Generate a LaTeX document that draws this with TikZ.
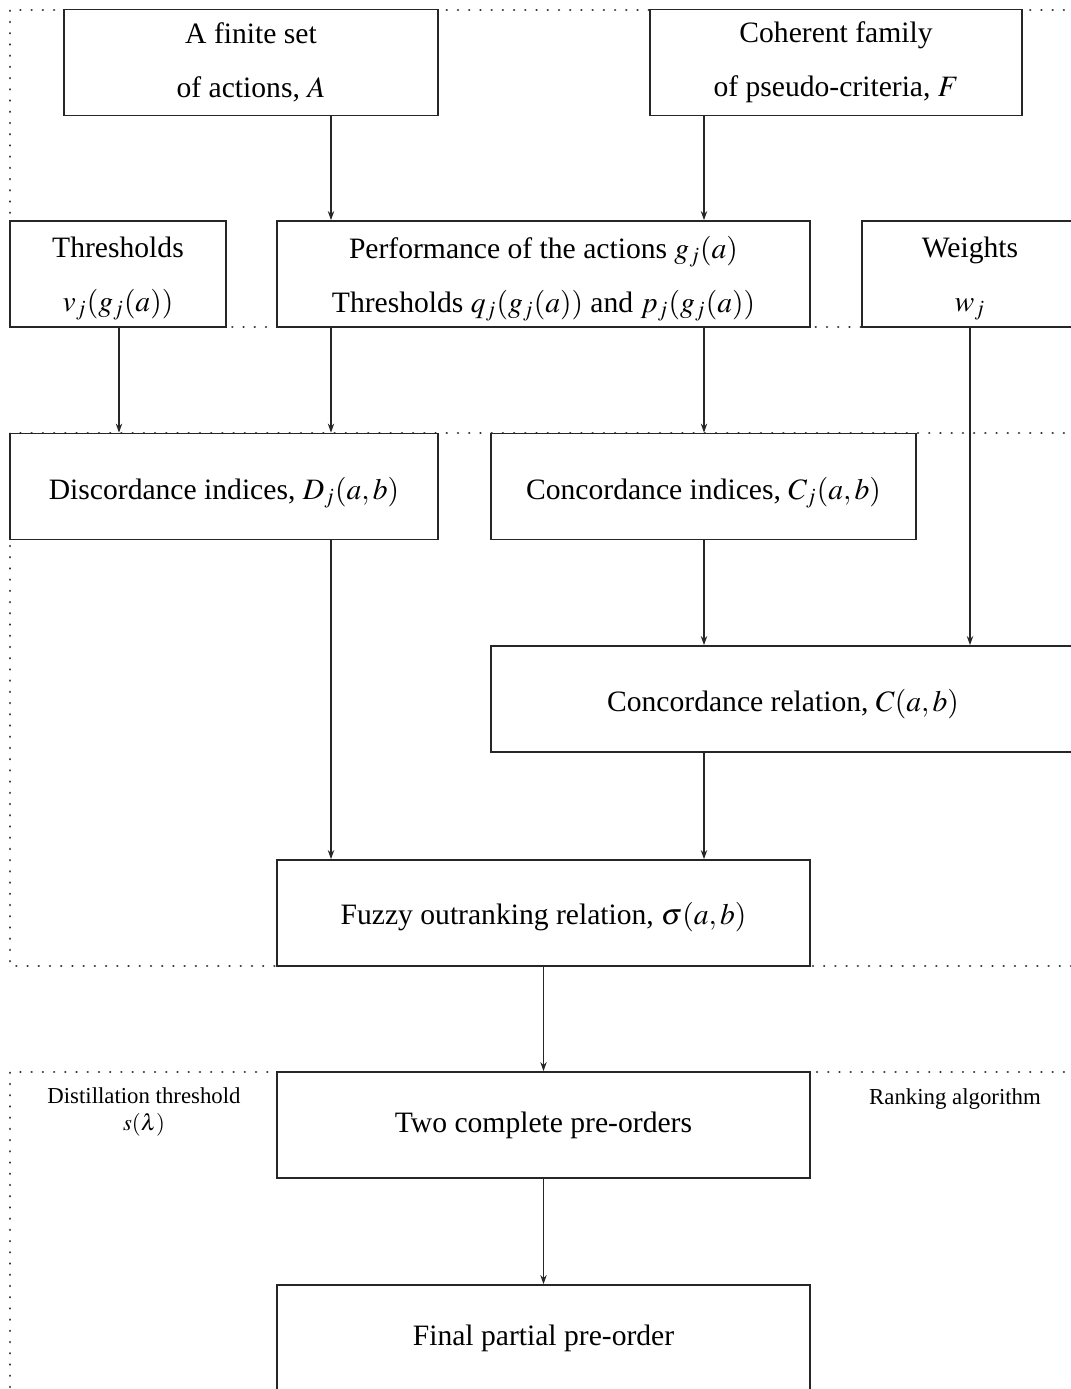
\documentclass[tikz,border=0pt]{standalone}
\usepackage{mathptmx}
\usepackage[no-math]{fontspec}
\setmainfont{Liberation Serif}
\usetikzlibrary{arrows.meta}

% invisible strut that lowers a box's text a little
\newcommand\topstrut[1]{\rule{0pt}{#1}}

\tikzset{
  box/.style={draw=black!85, line width=0.9pt, fill=white, inner sep=0pt,
    minimum height=53pt, align=center,
    font=\fontsize{14.8}{27}\selectfont},
  arr/.style={draw=black!85, line width=0.6pt, -{Stealth[length=4.5pt,width=3.2pt]}},
  frame/.style={draw=black!80, line width=1.3pt, line cap=round,
    dash pattern=on 0.01pt off 5.6pt},
  note/.style={align=center, inner sep=0pt,
    font=\fontsize{11.4}{13.5}\selectfont}
}

\begin{document}
\begin{tikzpicture}[x=0.5pt,y=-0.5pt]
\useasboundingbox (0,0) rectangle (1071,1389);
\clip (0,0) rectangle (1071,1389);

% dotted group frames (open on the right)
\draw[frame] (1120,10) -- (10,10) -- (10,327) -- (1120,327);
\draw[frame] (1120,433) -- (10,433) -- (10,966) -- (1120,966);
\draw[frame] (1120,1072) -- (10,1072) -- (10,1420);

% column guides for the connectors
\coordinate (xa) at (119,0);
\coordinate (xb) at (331,0);
\coordinate (xc) at (543.5,0);
\coordinate (xd) at (704,0);
\coordinate (xe) at (970,0);

% inputs
\node[box, minimum width=187pt] (A) at (251,62.5) {A finite set\\of actions, $A$};
\node[box, minimum width=186pt] (F) at (836,62.5) {Coherent family\\of pseudo-criteria, $F$};

\node[box, minimum width=108pt] (T) at (118,274) {\topstrut{15pt}Thresholds\\$v_j(g_j(a))$};
\node[box, minimum width=266.5pt] (P) at (543.5,274)
  {\topstrut{16pt}Performance of the actions $g_j(a)$\\Thresholds $q_j(g_j(a))$ and $p_j(g_j(a))$};
\node[box, minimum width=108pt] (W) at (970,274) {\topstrut{15pt}Weights\\$w_j$};

% indices and relations
\node[box, minimum width=214pt] (D) at (224,486.5) {\topstrut{17.5pt}Discordance indices, $D_j(a,b)$};
\node[box, minimum width=212.5pt] (CI) at (703.5,486.5) {\topstrut{17.5pt}Concordance indices, $C_j(a,b)$};
\node[box, minimum width=292pt] (CR) at (783,699) {\topstrut{16pt}Concordance relation, $C(a,b)$};
\node[box, minimum width=266.5pt] (S) at (543.5,913) {\topstrut{15pt}Fuzzy outranking relation, $\sigma(a,b)$};

% exploitation
\node[box, minimum width=266.5pt] (TP) at (543.5,1125) {Two complete pre-orders};
\node[box, minimum width=266.5pt] (FP) at (543.5,1338) {Final partial pre-order};

\node[note] (dist) at (144,1112) {Distillation threshold\\$s(\lambda)$};
\node[note] (rank) at (955,1099) {Ranking algorithm};

% connectors
\draw[arr] (A.south -| xb) -- (P.north -| xb);
\draw[arr] (F.south -| xd) -- (P.north -| xd);
\draw[arr] (T.south -| xa) -- (D.north -| xa);
\draw[arr] (P.south -| xb) -- (D.north -| xb);
\draw[arr] (P.south -| xd) -- (CI.north -| xd);
\draw[arr] (W.south -| xe) -- (CR.north -| xe);
\draw[arr] (CI.south -| xd) -- (CR.north -| xd);
\draw[arr] (D.south -| xb) -- (S.north -| xb);
\draw[arr] (CR.south -| xd) -- (S.north -| xd);
\draw[arr] (S.south -| xc) -- (TP.north -| xc);
\draw[arr] (TP.south -| xc) -- (FP.north -| xc);
\end{tikzpicture}
\end{document}
